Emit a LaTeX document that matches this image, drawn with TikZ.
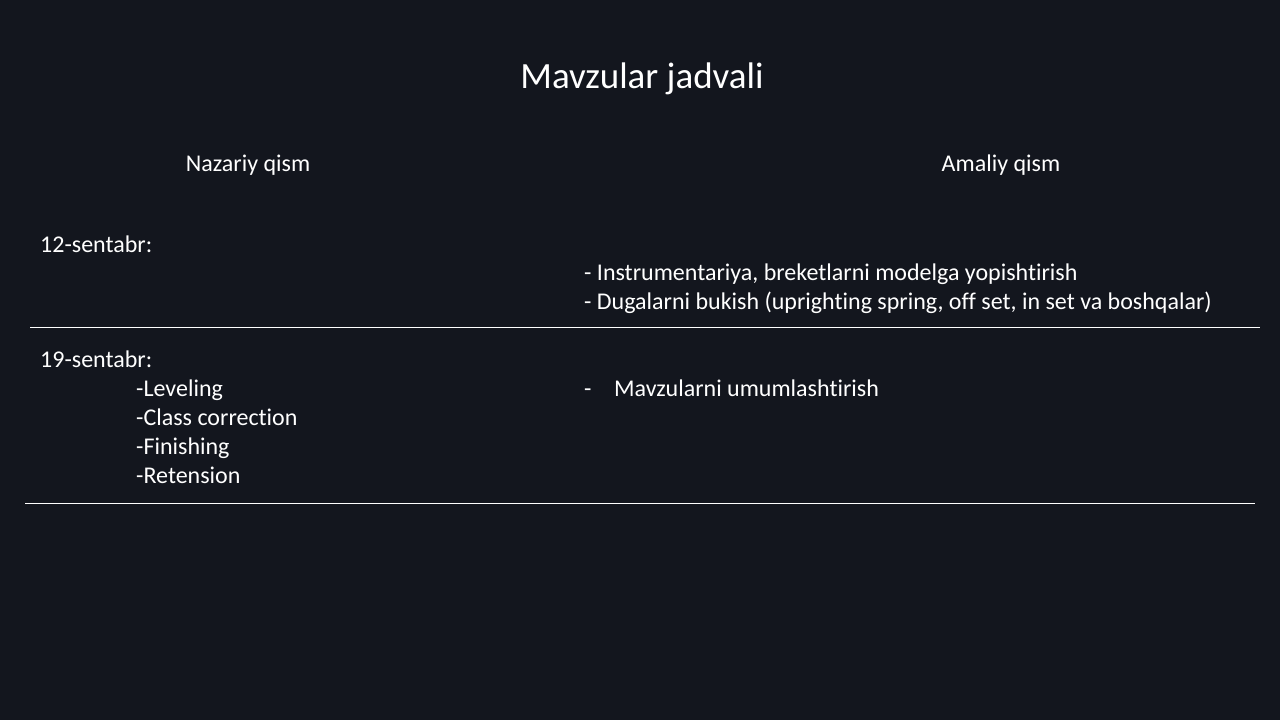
\documentclass[tikz,border=0pt]{standalone}
\usepackage{fontspec}
\setmainfont{Carlito}[Ligatures=NoCommon]
\definecolor{bg}{HTML}{13161E}
\tikzset{
  body/.style={text=white, font=\fontsize{24}{29}\selectfont, anchor=base west, inner sep=0pt},
  head/.style={text=white, font=\fontsize{24}{29}\selectfont, anchor=base, inner sep=0pt},
  ttl/.style={text=white, font=\fontsize{37}{44}\selectfont, anchor=base, inner sep=0pt},
  rule/.style={draw=white, line width=1pt}
}
\begin{document}
\begin{tikzpicture}[x=1pt,y=-1pt]
\fill[bg] (0,0) rectangle (1280,720);
\useasboundingbox (0,0) rectangle (1280,720);
\node[ttl] (title) at (642,88) {Mavzular jadvali};
\node[head] (hn) at (248,171) {Nazariy qism};
\node[head] (ha) at (1001,171) {Amaliy qism};
\node[body] (d1) at (40,252) {12-sentabr:};
\node[body] (r1) at (584,280) {- Instrumentariya, breketlarni modelga yopishtirish};
\node[body] (r2) at (584,309) {- Dugalarni bukish (uprighting spring, off set, in set va boshqalar)};
\coordinate (l1a) at (30,327);
\coordinate (l1b) at (1260,327);
\draw[rule] (l1a) -- (l1b);
\node[body] (d2) at (40,367) {19-sentabr:};
\node[body] (i1) at (136,396) {-Leveling};
\node[body] (i2) at (136,425) {-Class correction};
\node[body] (i3) at (136,454) {-Finishing};
\node[body] (i4) at (136,483) {-Retension};
\node[body] (r3) at (584,396) {\makebox[30pt][l]{-}Mavzularni umumlashtirish};
\coordinate (l2a) at (25,503);
\coordinate (l2b) at (1255,503);
\draw[rule] (l2a) -- (l2b);
\end{tikzpicture}
\end{document}
